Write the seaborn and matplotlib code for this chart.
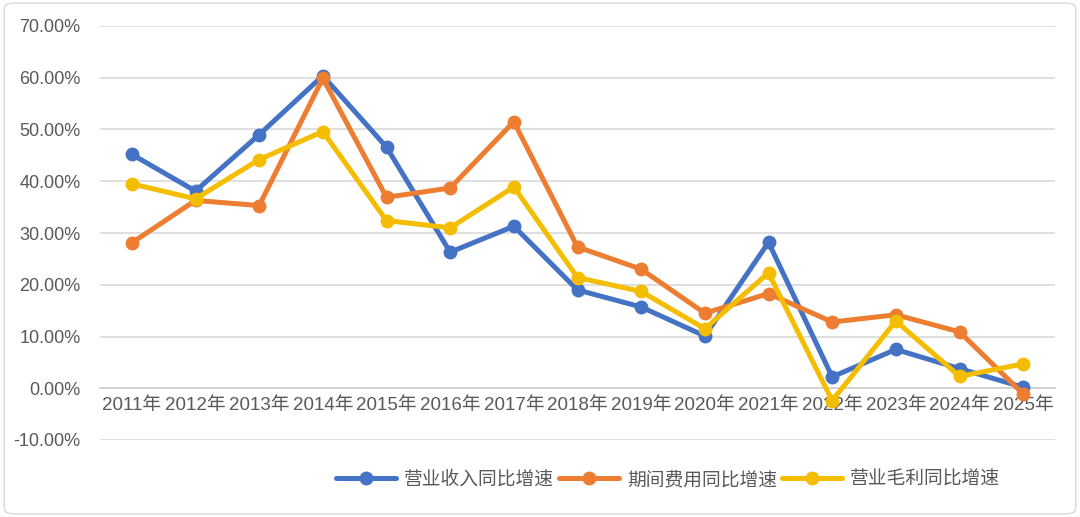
import matplotlib
matplotlib.use("Agg")
import matplotlib.pyplot as plt
from matplotlib.lines import Line2D
from matplotlib.patches import FancyBboxPatch
import pandas as pd
import seaborn as sns

years = ["2011年", "2012年", "2013年", "2014年", "2015年", "2016年", "2017年", "2018年",
         "2019年", "2020年", "2021年", "2022年", "2023年", "2024年", "2025年"]
revenue_growth = [45.2, 38.1, 49.0, 60.4, 46.6, 26.3, 31.3, 19.0, 15.7, 10.1, 28.2, 2.2, 7.5, 3.8, 0.2]
expense_growth = [28.1, 36.3, 35.3, 59.9, 36.9, 38.7, 51.5, 27.3, 23.0, 14.5, 18.3, 12.8, 14.2, 10.9, -1.1]
profit_growth = [39.5, 36.6, 44.2, 49.6, 32.4, 31.0, 38.9, 21.4, 18.7, 11.5, 22.3, -2.4, 13.0, 2.3, 4.7]
series_names = ["营业收入同比增速", "期间费用同比增速", "营业毛利同比增速"]
colors = ["#4472C4", "#ED7D31", "#F5BD00"]

df = pd.DataFrame({
    "idx": list(range(len(years))) * 3,
    "value": revenue_growth + expense_growth + profit_growth,
    "series": [series_names[0]] * len(years) + [series_names[1]] * len(years) + [series_names[2]] * len(years),
})

sns.set_theme(style="white")
plt.rcParams["font.family"] = ["Liberation Sans", "Noto Sans CJK SC", "DejaVu Sans"]
plt.rcParams["axes.unicode_minus"] = False

fig = plt.figure(figsize=(10.8, 5.17), dpi=100)
ax = fig.add_axes([100 / 1080, 1 - 440 / 517, 955 / 1080, (440 - 26) / 517])

for v in range(-10, 80, 10):
    ax.axhline(v, color="#D9D9D9", lw=1.2, zorder=0)

sns.lineplot(data=df, x="idx", y="value", hue="series", palette=colors, hue_order=series_names,
             marker="o", markersize=10, markeredgewidth=0, linewidth=3.6, legend=False, ax=ax, zorder=3)

ax.set_xlim(-0.5, len(years) - 0.5)
ax.set_ylim(-10, 70)
ax.set_yticks(range(-10, 80, 10))
ax.set_yticklabels([f"{v:.2f}%" for v in range(-10, 80, 10)])
ax.set_xticks(range(len(years)))
ax.set_xticklabels(years)
for s in ["top", "right", "left"]:
    ax.spines[s].set_visible(False)
ax.spines["bottom"].set_position(("data", 0))
ax.spines["bottom"].set_color("#D0D0D0")
ax.spines["bottom"].set_linewidth(1.2)
ax.tick_params(axis="both", length=0, colors="#595959")
ax.tick_params(axis="y", pad=14, labelsize=13)
ax.tick_params(axis="x", pad=6, labelsize=13.5)
ax.set_xlabel("")
ax.set_ylabel("")

handles = [Line2D([0], [0], color=c, lw=3.6, marker="o", markersize=10, markeredgewidth=0) for c in colors]
fig.legend(handles, series_names, loc="center", bbox_to_anchor=(668 / 1080, 1 - 480 / 517), ncol=3,
           frameon=False, fontsize=13.5, labelcolor="#595959", handlelength=3.2, handletextpad=0.4,
           columnspacing=0.3)

fig.patches.append(FancyBboxPatch((0.004, 0.006), 0.992, 0.988, boxstyle="round,pad=0,rounding_size=0.01",
                                  transform=fig.transFigure, fill=False, edgecolor="#D9D9D9", lw=1))

fig.savefig("out.png", dpi=100)
